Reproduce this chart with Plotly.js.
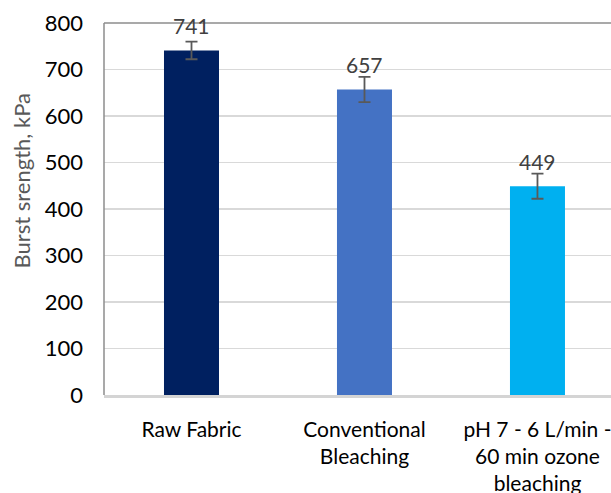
<!DOCTYPE html>
<html>
<head>
<meta charset="utf-8">
<script src="https://cdn.plot.ly/plotly-3.0.1.min.js"></script>
<style>html,body{margin:0;padding:0;background:#fff;}#chart{width:611px;height:493px;}</style>
</head>
<body>
<div id="chart"></div>
<script>
const categories = ["Raw Fabric", "Conventional<br>Bleaching", "pH 7 - 6 L/min -<br>60 min ozone<br>bleaching"];
const values = [741, 657, 449];
const errors = [19, 27, 27];
const colors = ["#002060", "#4472C4", "#00B0F0"];
const yTicks = [0, 100, 200, 300, 400, 500, 600, 700, 800];

const FONT = "Lato, 'Liberation Sans', sans-serif";

const trace = {
  type: "bar",
  x: [0, 1, 2],
  y: values,
  width: 0.318,
  marker: {color: colors},
  error_y: {type: "data", array: errors, visible: true, color: "#595959", thickness: 1.8, width: 6},
  hoverinfo: "none"
};

const annotations = values.map((v, i) => ({
  x: i, y: v, xref: "x", yref: "y",
  text: String(v), showarrow: false,
  yanchor: "middle", yshift: 25,
  font: {family: FONT, size: 21, color: "#404040"}
}));
annotations.push({
  xref: "paper", yref: "paper", x: -0.163, y: 0.575,
  text: "Burst srength, kPa", textangle: -90, showarrow: false,
  xanchor: "center", yanchor: "middle",
  font: {family: FONT, size: 22, color: "#595959"}
});

const layout = {
  width: 611, height: 493,
  margin: {l: 104, r: 0, t: 23, b: 98},
  paper_bgcolor: "#fff", plot_bgcolor: "#fff",
  showlegend: false,
  xaxis: {
    range: [-0.5058, 2.425],
    tickmode: "array", tickvals: [0, 1, 2], ticktext: categories,
    showgrid: false, zeroline: false,
    showline: true, linecolor: "#d4d4d4", linewidth: 2.5,
    ticks: "", ticklabelstandoff: 14, ticklabeloverflow: "allow",
    tickfont: {family: FONT, size: 21, color: "#000"}
  },
  yaxis: {
    range: [0, 800],
    tickmode: "array", tickvals: yTicks,
    showgrid: true, gridcolor: "#d9d9d9", gridwidth: 1.5,
    zeroline: false, showline: false, ticks: "",
    ticklabelstandoff: 20,
    tickfont: {family: FONT, size: 22, color: "#000"}
  },
  shapes: [
    {type: "line", xref: "paper", yref: "paper", x0: 0, x1: 0, y0: 0, y1: 1, line: {color: "#8c8c8c", width: 1.5}},
    {type: "line", xref: "paper", yref: "paper", x0: 0, x1: 1, y0: 1, y1: 1, line: {color: "#8c8c8c", width: 1.5}}
  ],
  annotations: annotations
};

Plotly.newPlot("chart", [trace], layout, {displayModeBar: false, staticPlot: true});
</script>
</body>
</html>
